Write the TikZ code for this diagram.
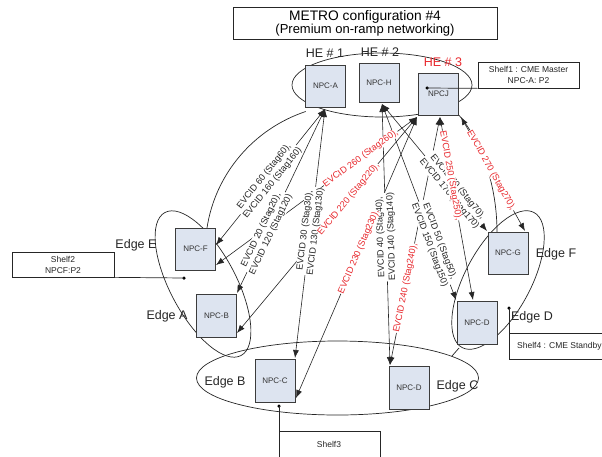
\documentclass[tikz,border=0pt]{standalone}
\usepackage{fontspec}
\setmainfont{Liberation Sans}
\usetikzlibrary{arrows.meta,calc}
\definecolor{npcfill}{RGB}{221,228,240}
\definecolor{npcdraw}{RGB}{60,60,60}
\definecolor{evcred}{RGB}{232,40,45}
\tikzset{
  npc/.style={draw=npcdraw, fill=npcfill, line width=0.8pt, minimum width=40pt,
    minimum height=42pt, inner sep=0pt, font=\fontsize{8}{9.6}\selectfont, text=black!80},
  ring/.style={draw=black!85, line width=0.7pt},
  link/.style={draw=black!85, line width=0.6pt,
    {Latex[length=8pt,width=6pt]}-{Latex[length=8pt,width=6pt]}},
  evc/.style={fill=white, inner sep=0.3pt, sloped, align=center,
    font=\fontsize{9.1}{10.8}\selectfont, text=black!85},
  evcr/.style={evc, text=evcred},
  edgelbl/.style={font=\fontsize{12.5}{14}\selectfont, inner sep=0pt, text=black!85},
  shelf/.style={draw=black!85, line width=0.7pt, fill=white, inner sep=0pt},
  shelftxt/.style={font=\fontsize{8.5}{11}\selectfont, align=center, inner sep=0pt, text=black!85},
  tap/.style={circle, fill=black, inner sep=0pt, minimum size=3.5pt},
}
\begin{document}
\begin{tikzpicture}[x=1pt, y=-1pt]
\useasboundingbox (0,0) rectangle (602,456);
\clip (0,0) rectangle (602,456);

% title
\node[draw=black!85, line width=0.7pt, minimum width=264pt, minimum height=32pt,
  align=center, inner sep=0pt] (title) at (365,23.5)
  {\fontsize{13.8}{17}\selectfont METRO configuration \#4\\
   \fontsize{13}{17}\selectfont (Premium on-ramp networking)};

% edge groups and the ring that joins them
\draw[ring] (382,85) ellipse [x radius=90pt, y radius=32pt];
\draw[ring] (337.5,378) ellipse [x radius=141pt, y radius=37pt];
\draw[ring, rotate around={-62:(203,284)}] (203,284) ellipse [x radius=81pt, y radius=33pt];
\draw[ring, rotate around={62:(498,280)}] (498,280) ellipse [x radius=76.5pt, y radius=33pt];
\draw[ring] (207,228) .. controls (215.2,173.8) and (253.7,128.9) .. (305.7,111.5);
\draw[ring] (456,112) .. controls (478,135) and (497,180) .. (497,232);
\draw[ring] (452,356) -- (459,348);

% NPC shelves
\node[npc] (npcA) at (325.5,86) {NPC-A};
\node[npc, minimum height=39pt] (npcH) at (379,82.5) {NPC-H};
\node[npc] (npcJ) at (438.5,94) {NPCJ};
\node[npc] (npcF) at (195.5,249) {NPC-F};
\node[npc, minimum height=43pt] (npcB) at (216.5,315.5) {NPC-B};
\node[npc, minimum height=43pt] (npcC) at (275,380.5) {NPC-C};
\node[npc, minimum height=43pt] (npcDb) at (409,387.5) {NPC-D};
\node[npc, minimum height=43pt] (npcDr) at (477,322.5) {NPC-D};
\node[npc] (npcG) at (508,253) {NPC-G};

% connector ports on the shelves
\coordinate (pA) at (325,109);
\coordinate (pH) at (382,104);
\coordinate (pJ1) at (417,117);
\coordinate (pJ2) at (440,117);
\coordinate (pJ3) at (461,117);
\coordinate (fT) at (216,245);
\coordinate (fB) at (216,265);
\coordinate (bT) at (237,293);
\coordinate (bB) at (237,333);
\coordinate (cT) at (295,358);
\coordinate (cB) at (296,398);
\coordinate (dT) at (390,365);
\coordinate (rL) at (456,300);
\coordinate (rT) at (473,300);
\coordinate (gL) at (487,231);
\coordinate (gR) at (525,231);

% EVC links
\draw[link] (pA) -- (fT);
\draw[link] (pA) -- (bT);
\draw[link] (pA) -- (cT);
\draw[link] (pJ1) -- (fB);
\draw[link] (pJ1) -- (bB);
\draw[link] (pJ1) -- (cB);
\draw[link] (pJ2) -- (dT);
\draw[link] (pJ2) -- (rT);
\draw[link] (pJ3) -- (gR);
\draw[link] (dT) -- (pH);
\draw[link] (pH) -- (rL);
\draw[link] (pH) -- (gL);

% EVC labels
\path (pA) -- node[evc, pos=0.52] (l60) {EVCID 60 (Stag60),\\EVCID 160 (Stag160)} (fT);
\path (pA) -- node[evc, pos=0.67] (l20) {EVCID 20 (Stag20),\\EVCID 120 (Stag120)} (bT);
\path (pA) -- node[evc, pos=0.49] (l30) {EVCID 30 (Stag30),\\EVCID 130 (Stag130)} (cT);
\path (dT) -- node[evc, pos=0.49, allow upside down] (l40) {EVCID 40 (Stag40),\\EVCID 140 (Stag140)} (pH);
\path (pH) -- node[evc, pos=0.71] (l50) {EVCID 50 (Stag50),\\EVCID 150 (Stag150)} (rL);
\path (pH) -- node[evc, pos=0.68] (l70) {EVCID 70 (Stag70),\\EVCID 170 (Stag170)} (gL);
\path (pJ1) -- node[evcr, pos=0.28] (l260) {EVCID 260 (Stag260),} (fB);
\path (pJ1) -- node[evcr, pos=0.38] (l220) {EVCID 220 (Stag220),} (bB);
\path (pJ1) -- node[evcr, pos=0.48] (l230) {EVCID 230 (Stag230),} (cB);
\path (pJ2) -- node[evcr, pos=0.69] (l240) {EVCID 240 (Stag240),} (dT);
\path (pJ2) -- node[evcr, pos=0.32] (l250) {EVCID 250 (Stag250),} (rT);
\path (pJ3) -- node[evcr, pos=0.47] (l270) {EVCID 270 (Stag270),} (gR);

% head-end and edge names
\node[edgelbl] (he1) at (325,53) {HE \# 1};
\node[edgelbl] (he2) at (380,52) {HE \# 2};
\node[edgelbl, text=evcred] (he3) at (443,62) {HE \# 3};
\node[edgelbl] (edE) at (136,245) {Edge E};
\node[edgelbl] (edA) at (167,316) {Edge A};
\node[edgelbl] (edB) at (225,382) {Edge B};
\node[edgelbl] (edC) at (457.5,386) {Edge C};
\node[edgelbl] (edD) at (532,317) {Edge D};
\node[edgelbl] (edF) at (556,254) {Edge F};

% shelf call-outs
\node[shelf, minimum width=101pt, minimum height=26pt] (shelf1) at (528.5,75) {};
\node[shelftxt] at (shelf1.center) {Shelf1 : CME Master\\NPC-A: P2};
\node[shelf, minimum width=102pt, minimum height=25pt] (shelf2) at (63,264.5) {};
\node[shelftxt] at (shelf2.center) {Shelf2\\NPCF:P2};
\node[shelf, minimum width=101pt, minimum height=40pt, anchor=north west] (shelf3) at (279,431) {};
\node[shelftxt] at (329,444) {Shelf3};
\node[shelf, minimum width=103pt, minimum height=26pt, anchor=north west] (shelf4) at (509,333) {};
\node[shelftxt, anchor=west] at (517,346) {Shelf4 : CME Standby};

\node[tap] (t1) at (427,88) {};
\node[tap] (t2) at (184,278) {};
\node[tap] (t3) at (279,406) {};
\node[tap] (t4) at (509,308) {};
\draw[black!85, line width=0.7pt] (t1.center) -- (shelf1.south west);
\draw[black!85, line width=0.7pt] (t2.center) -- (shelf2.south east);
\draw[black!85, line width=0.7pt] (t3.center) -- (shelf3.north west);
\draw[black!85, line width=0.7pt] (t4.center) -- (shelf4.north west);
\end{tikzpicture}
\end{document}
